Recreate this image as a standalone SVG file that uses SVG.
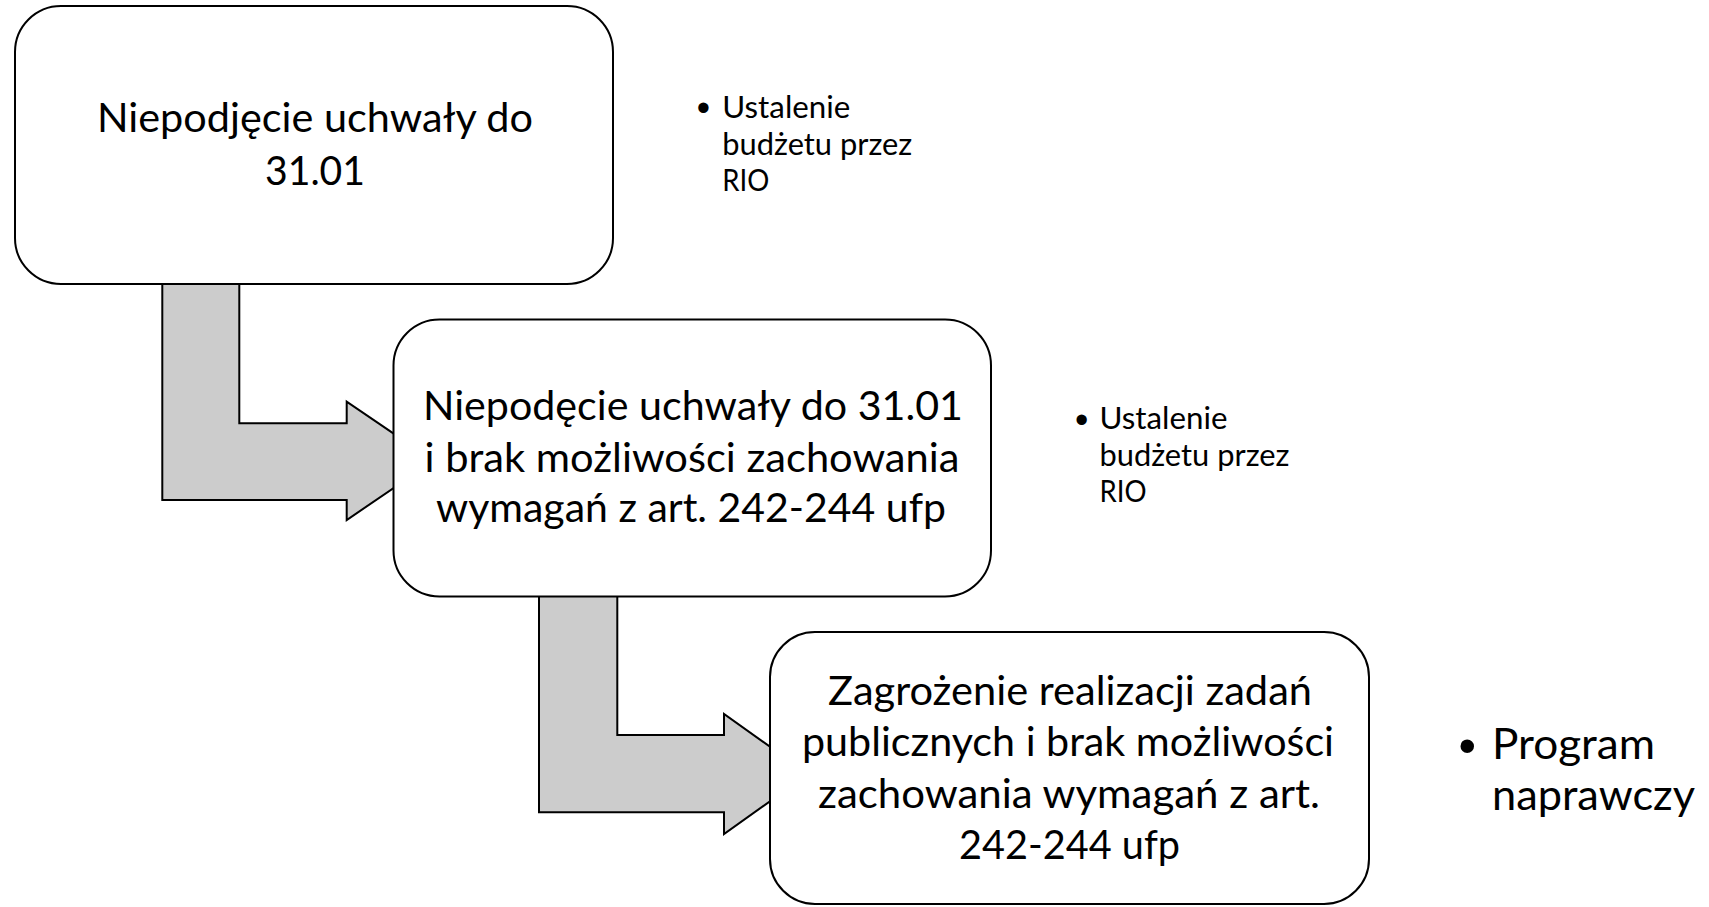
<svg xmlns="http://www.w3.org/2000/svg" width="1709" height="907" viewBox="0 0 1709 907">
<style>
.box{fill:#FFFFFF;stroke:#000000;stroke-width:2}
.arrow{fill:#CCCCCC;stroke:#000000;stroke-width:2;stroke-linejoin:miter}
.t{font-family:Lato,"Open Sans","Liberation Sans",sans-serif;font-size:41px;fill:#000000;text-anchor:middle}
.b{font-family:Lato,"Open Sans","Liberation Sans",sans-serif;font-size:30px;fill:#000000}
.b3{font-family:Lato,"Open Sans","Liberation Sans",sans-serif;font-size:42.5px;fill:#000000}
.dot{font-family:"Liberation Sans",Arial,sans-serif;fill:#000000;text-anchor:middle}
</style>
<rect width="1709" height="907" fill="#FFFFFF"/>
<g id="connectors">
<polygon class="arrow" points="162.3,280 239.3,280 239.3,423.3 346.7,423.3 346.7,401.7 433.7,460.8 346.7,520 346.7,500 162.3,500"/>
<polygon class="arrow" points="539,592 617.3,592 617.3,735 724,735 724,714 808.5,774 724,834 724,812.3 539,812.3"/>
</g>
<g id="node1">
<rect class="box" x="15" y="6" width="598" height="278" rx="46" ry="46"/>
<text class="t" x="315" y="132" textLength="436" lengthAdjust="spacingAndGlyphs">Niepodjęcie uchwały do</text>
<text class="t" x="315" y="184.5" textLength="100" lengthAdjust="spacingAndGlyphs">31.01</text>
</g>
<g id="node2">
<rect class="box" x="393.5" y="319.5" width="597.5" height="277" rx="46" ry="46"/>
<text class="t" x="693" y="420" textLength="540" lengthAdjust="spacingAndGlyphs">Niepodęcie uchwały do 31.01</text>
<text class="t" x="692" y="471.5" textLength="535" lengthAdjust="spacingAndGlyphs">i brak możliwości zachowania</text>
<text class="t" x="691" y="522" textLength="510" lengthAdjust="spacingAndGlyphs">wymagań z art. 242-244 ufp</text>
</g>
<g id="node3">
<rect class="box" x="770" y="632" width="599" height="272" rx="45" ry="45"/>
<text class="t" x="1070" y="704.5" textLength="484" lengthAdjust="spacingAndGlyphs">Zagrożenie realizacji zadań</text>
<text class="t" x="1068" y="756" textLength="532" lengthAdjust="spacingAndGlyphs">publicznych i brak możliwości</text>
<text class="t" x="1069" y="807.5" textLength="502" lengthAdjust="spacingAndGlyphs">zachowania wymagań z art.</text>
<text class="t" x="1069.5" y="859" textLength="221" lengthAdjust="spacingAndGlyphs">242-244 ufp</text>
</g>
<g id="note1">
<text class="dot" x="703.3" y="120.6" font-size="38">•</text>
<text class="b" x="722.3" y="118.3" textLength="128" lengthAdjust="spacingAndGlyphs">Ustalenie</text>
<text class="b" x="722.3" y="154.5" textLength="190" lengthAdjust="spacingAndGlyphs">budżetu przez</text>
<text class="b" x="722.3" y="190.6" textLength="47" lengthAdjust="spacingAndGlyphs">RIO</text>
</g>
<g id="note2">
<text class="dot" x="1081.7" y="432.6" font-size="38">•</text>
<text class="b" x="1099.5" y="429.3" textLength="128" lengthAdjust="spacingAndGlyphs">Ustalenie</text>
<text class="b" x="1099.5" y="465.7" textLength="190" lengthAdjust="spacingAndGlyphs">budżetu przez</text>
<text class="b" x="1099.5" y="502" textLength="47" lengthAdjust="spacingAndGlyphs">RIO</text>
</g>
<g id="note3">
<text class="dot" x="1467.3" y="763" font-size="50">•</text>
<text class="b3" x="1492" y="759" textLength="163" lengthAdjust="spacingAndGlyphs">Program</text>
<text class="b3" x="1492" y="810" textLength="203" lengthAdjust="spacingAndGlyphs">naprawczy</text>
</g>
</svg>
